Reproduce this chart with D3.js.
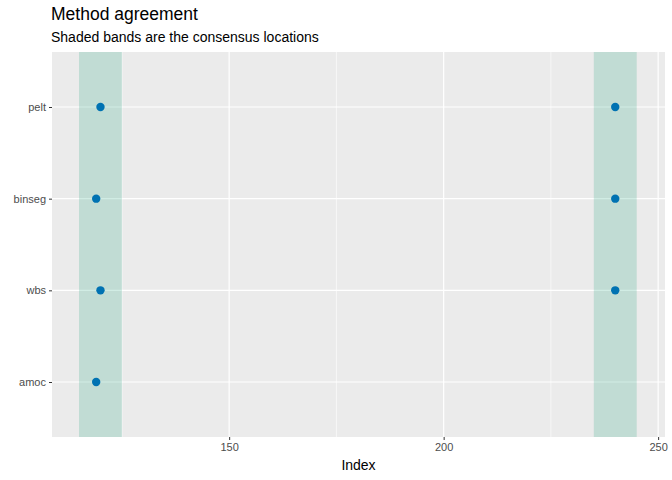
<!DOCTYPE html>
<html><head><meta charset="utf-8">
<script src="https://cdn.jsdelivr.net/npm/d3@7"></script>
<style>body{margin:0;background:#fff;font-family:"Liberation Sans",Arial,sans-serif}</style>
</head><body><svg id="chart" width="672" height="480"></svg>
<script>
// Data
const methods = ['pelt', 'binseg', 'wbs', 'amoc'];
const pointMethod = ['pelt', 'pelt', 'binseg', 'binseg', 'wbs', 'wbs', 'amoc'];
const pointIndex = [120, 240, 119, 240, 120, 240, 119];
const bandStart = [115, 235];
const bandEnd = [125, 245];
const xTicks = [150, 200, 250];
const xMinor = [125, 175, 225];

const margin = { top: 52, right: 7, bottom: 43, left: 52 };
const width = 672 - margin.left - margin.right;
const height = 480 - margin.top - margin.bottom;
const svg = d3.select('#chart');
const g = svg.append('g').attr('transform', `translate(${margin.left},${margin.top})`);

const x = d3.scaleLinear().domain([108.7, 251.6]).range([0, width]);
const y = d3.scalePoint().domain(methods).range([0, height]).padding(0.6);

// Panel
g.append('rect').attr('width', width).attr('height', height).attr('fill', '#ebebeb');
xMinor.forEach(v => g.append('line').attr('x1', x(v)).attr('x2', x(v)).attr('y1', 0).attr('y2', height)
    .attr('stroke', '#fff').attr('stroke-width', 0.6));
xTicks.forEach(v => g.append('line').attr('x1', x(v)).attr('x2', x(v)).attr('y1', 0).attr('y2', height)
    .attr('stroke', '#fff').attr('stroke-width', 1.2));
methods.forEach(m => g.append('line').attr('x1', 0).attr('x2', width).attr('y1', y(m)).attr('y2', y(m))
    .attr('stroke', '#fff').attr('stroke-width', 1.2));

// Consensus bands
bandStart.forEach((s, i) => g.append('rect').attr('x', x(s)).attr('width', x(bandEnd[i]) - x(s))
    .attr('y', 0).attr('height', height).attr('fill', '#1b9e77').attr('opacity', 0.2));

// Points
g.selectAll('.pt').data(pointIndex).enter().append('circle')
    .attr('cx', d => x(d)).attr('cy', (d, i) => y(pointMethod[i])).attr('r', 4.2).attr('fill', '#0072b2');

// Axes
const xAxis = g.append('g').attr('transform', `translate(0,${height})`)
    .call(d3.axisBottom(x).tickValues(xTicks).tickSize(3).tickPadding(3));
const yAxis = g.append('g').call(d3.axisLeft(y).tickSize(3).tickPadding(3));
[xAxis, yAxis].forEach(a => {
    a.select('.domain').remove();
    a.selectAll('line').attr('stroke', '#333');
    a.selectAll('text').attr('fill', '#4d4d4d').style('font-size', '11px').style('font-family', 'Liberation Sans, Arial');
});

// Titles
svg.append('text').attr('x', 51).attr('y', 20).style('font-size', '17.5px').text('Method agreement');
svg.append('text').attr('x', 51).attr('y', 42).style('font-size', '14px').text('Shaded bands are the consensus locations');
svg.append('text').attr('x', margin.left + width / 2).attr('y', 470).attr('text-anchor', 'middle')
    .style('font-size', '14px').text('Index');
</script></body></html>
